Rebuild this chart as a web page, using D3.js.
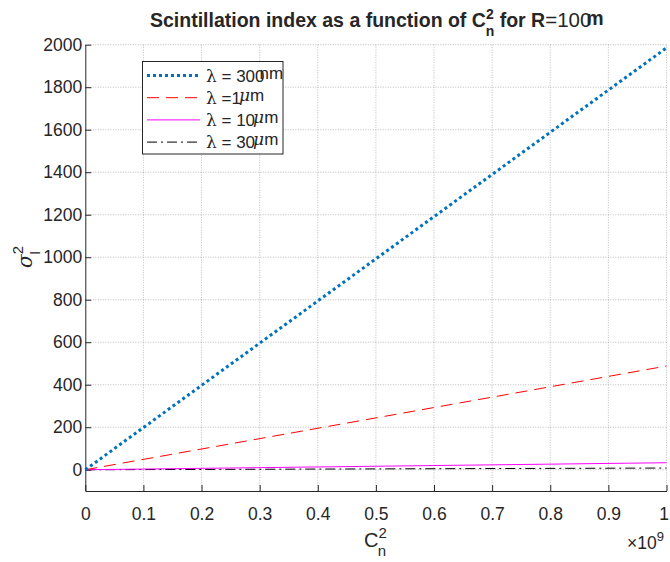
<!DOCTYPE html>
<html>
<head>
<meta charset="utf-8">
<script src="https://cdn.jsdelivr.net/npm/d3@7"></script>
<style>
  body { margin: 0; background: #fff; }
  text { font-family: "Liberation Sans", Arial, sans-serif; fill: #262626; }
</style>
</head>
<body>
<svg id="chart" width="670" height="562"></svg>
<script>
// data (Cn2 in units of 1e-9, sigma_I^2)
const cn2 = [0, 1]
const sigma300nm = [0, 1985]
const sigma1um = [0, 488]
const sigma10um = [0, 33]
const sigma30um = [0, 8]

const xTicks = [0, 0.1, 0.2, 0.3, 0.4, 0.5, 0.6, 0.7, 0.8, 0.9, 1]
const yTicks = [0, 200, 400, 600, 800, 1000, 1200, 1400, 1600, 1800, 2000]

const series = [
    { name: "300", unit: "nm", values: sigma300nm, color: "#0072BD", width: 3, dash: "3,3" },
    { name: "1", unit: "\u03bcm", values: sigma1um, color: "#FF0000", width: 1, dash: "12,7" },
    { name: "10", unit: "\u03bcm", values: sigma10um, color: "#FF00FF", width: 1, dash: null },
    { name: "30", unit: "\u03bcm", values: sigma30um, color: "#000000", width: 1, dash: "10,4,2,4" }
]

const svg = d3.select("#chart")
const plotLeft = 85.3, plotRight = 666.5, plotTop = 44.7, plotBottom = 491

const x = d3.scaleLinear().domain([0, 1]).range([plotLeft, plotRight])
const y = d3.scaleLinear().domain([-100, 2000]).range([plotBottom, plotTop])

// grid
const grid = svg.append("g")
grid.selectAll(".vgrid")
    .data(xTicks.filter(d => d > 0))
    .join("line")
    .attr("x1", d => x(d)).attr("x2", d => x(d))
    .attr("y1", plotTop).attr("y2", plotBottom)
    .attr("stroke", "#8c8c8c").attr("stroke-width", 0.8)
    .attr("stroke-dasharray", "1,1.5").attr("opacity", 0.7)
grid.selectAll(".hgrid")
    .data(yTicks)
    .join("line")
    .attr("x1", plotLeft).attr("x2", plotRight)
    .attr("y1", d => y(d)).attr("y2", d => y(d))
    .attr("stroke", "#8c8c8c").attr("stroke-width", 0.8)
    .attr("stroke-dasharray", "1,1.5").attr("opacity", 0.7)

// axes (ticks pointing inward)
const xAxis = d3.axisBottom(x).tickValues(xTicks).tickSizeInner(-6).tickSizeOuter(0)
    .tickPadding(17).tickFormat(d3.format("~g"))
const gx = svg.append("g").attr("transform", `translate(0,${plotBottom})`).call(xAxis)
const yAxis = d3.axisLeft(y).tickValues(yTicks).tickSizeInner(-6).tickSizeOuter(0)
    .tickPadding(3).tickFormat(d3.format("d"))
const gy = svg.append("g").attr("transform", `translate(${plotLeft},0)`).call(yAxis)

;[gx, gy].forEach(g => {
    g.select(".domain").attr("stroke", "#262626").attr("stroke-width", 1)
    g.selectAll(".tick line").attr("stroke", "#262626")
    g.selectAll(".tick text").attr("font-size", 17.5).attr("fill", "#262626")
        .style("font-family", '"Liberation Sans", Arial, sans-serif')
})
// last x label sits right at the window edge
gx.selectAll(".tick text").filter(d => d === 1).attr("dx", -3)

// lines
const line = d3.line().x((d, i) => x(cn2[i])).y(d => y(d))
svg.append("g").selectAll("path")
    .data(series.slice().reverse())
    .join("path")
    .attr("d", d => line(d.values))
    .attr("fill", "none")
    .attr("stroke", d => d.color)
    .attr("stroke-width", d => d.width)
    .attr("stroke-dasharray", d => d.dash)

// title
const title = svg.append("text").attr("x", 150).attr("y", 27)
    .attr("font-size", 19.5).attr("font-weight", "bold")
title.append("tspan").text("Scintillation index  as a function of C")
title.append("tspan").attr("font-size", 14).attr("dy", -8).text("2")
title.append("tspan").attr("font-size", 14).attr("dx", -8).attr("dy", 17).text("n")
title.append("tspan").attr("dy", -9).text(" for R")
title.append("tspan").attr("font-weight", "normal").attr("font-size", 20.5).text("=100")
title.append("tspan").attr("dx", -5).attr("dy", -2).text("m")

// axis labels
const xl = svg.append("text").attr("x", 364).attr("y", 547).attr("font-size", 20)
xl.append("tspan").text("C")
xl.append("tspan").attr("font-size", 15).attr("dy", -9).text("2")
xl.append("tspan").attr("font-size", 15).attr("dx", -9).attr("dy", 18).text("n")

const ex = svg.append("text").attr("x", 627).attr("y", 549).attr("font-size", 17.5)
ex.append("tspan").text("\u00d710")
ex.append("tspan").attr("font-size", 13).attr("dy", -8).text("9")

const yl = svg.append("text").attr("transform", "translate(32,268) rotate(-90)").attr("font-size", 20)
yl.append("tspan").style("font-family", '"DejaVu Serif", serif').attr("font-style", "italic").text("\u03c3")
yl.append("tspan").attr("font-size", 15).attr("dy", -9).text("2")
yl.append("tspan").attr("font-size", 15).attr("dx", -9).attr("dy", 17).text("I")

// legend
const lg = svg.append("g")
lg.append("rect").attr("x", 142.5).attr("y", 61.5).attr("width", 140.5).attr("height", 92.5)
    .attr("fill", "#fff").attr("stroke", "#262626").attr("stroke-width", 1)
const rows = lg.selectAll(".row").data(series).join("g")
    .attr("transform", (d, i) => `translate(0,${75.5 + i * 22.2})`)
rows.append("line").attr("x1", 147).attr("x2", 200)
    .attr("stroke", d => d.color).attr("stroke-width", d => d.width)
    .attr("stroke-dasharray", d => d.dash)
const lt = rows.append("text").attr("x", 206).attr("y", 6).attr("font-size", 17)
lt.append("tspan").style("font-family", '"DejaVu Serif", serif').text("\u03bb")
lt.append("tspan").text((d, i) => i === 1 ? " =" + d.name : " = " + d.name)
lt.append("tspan").attr("dx", d => d.unit === "nm" ? -5 : -2).attr("dy", -3)
    .style("font-family", d => d.unit === "nm" ? null : '"DejaVu Serif", serif')
    .attr("font-style", d => d.unit === "nm" ? null : "italic")
    .text(d => d.unit[0])
lt.append("tspan").text(d => d.unit.slice(1))
</script>
</body>
</html>
